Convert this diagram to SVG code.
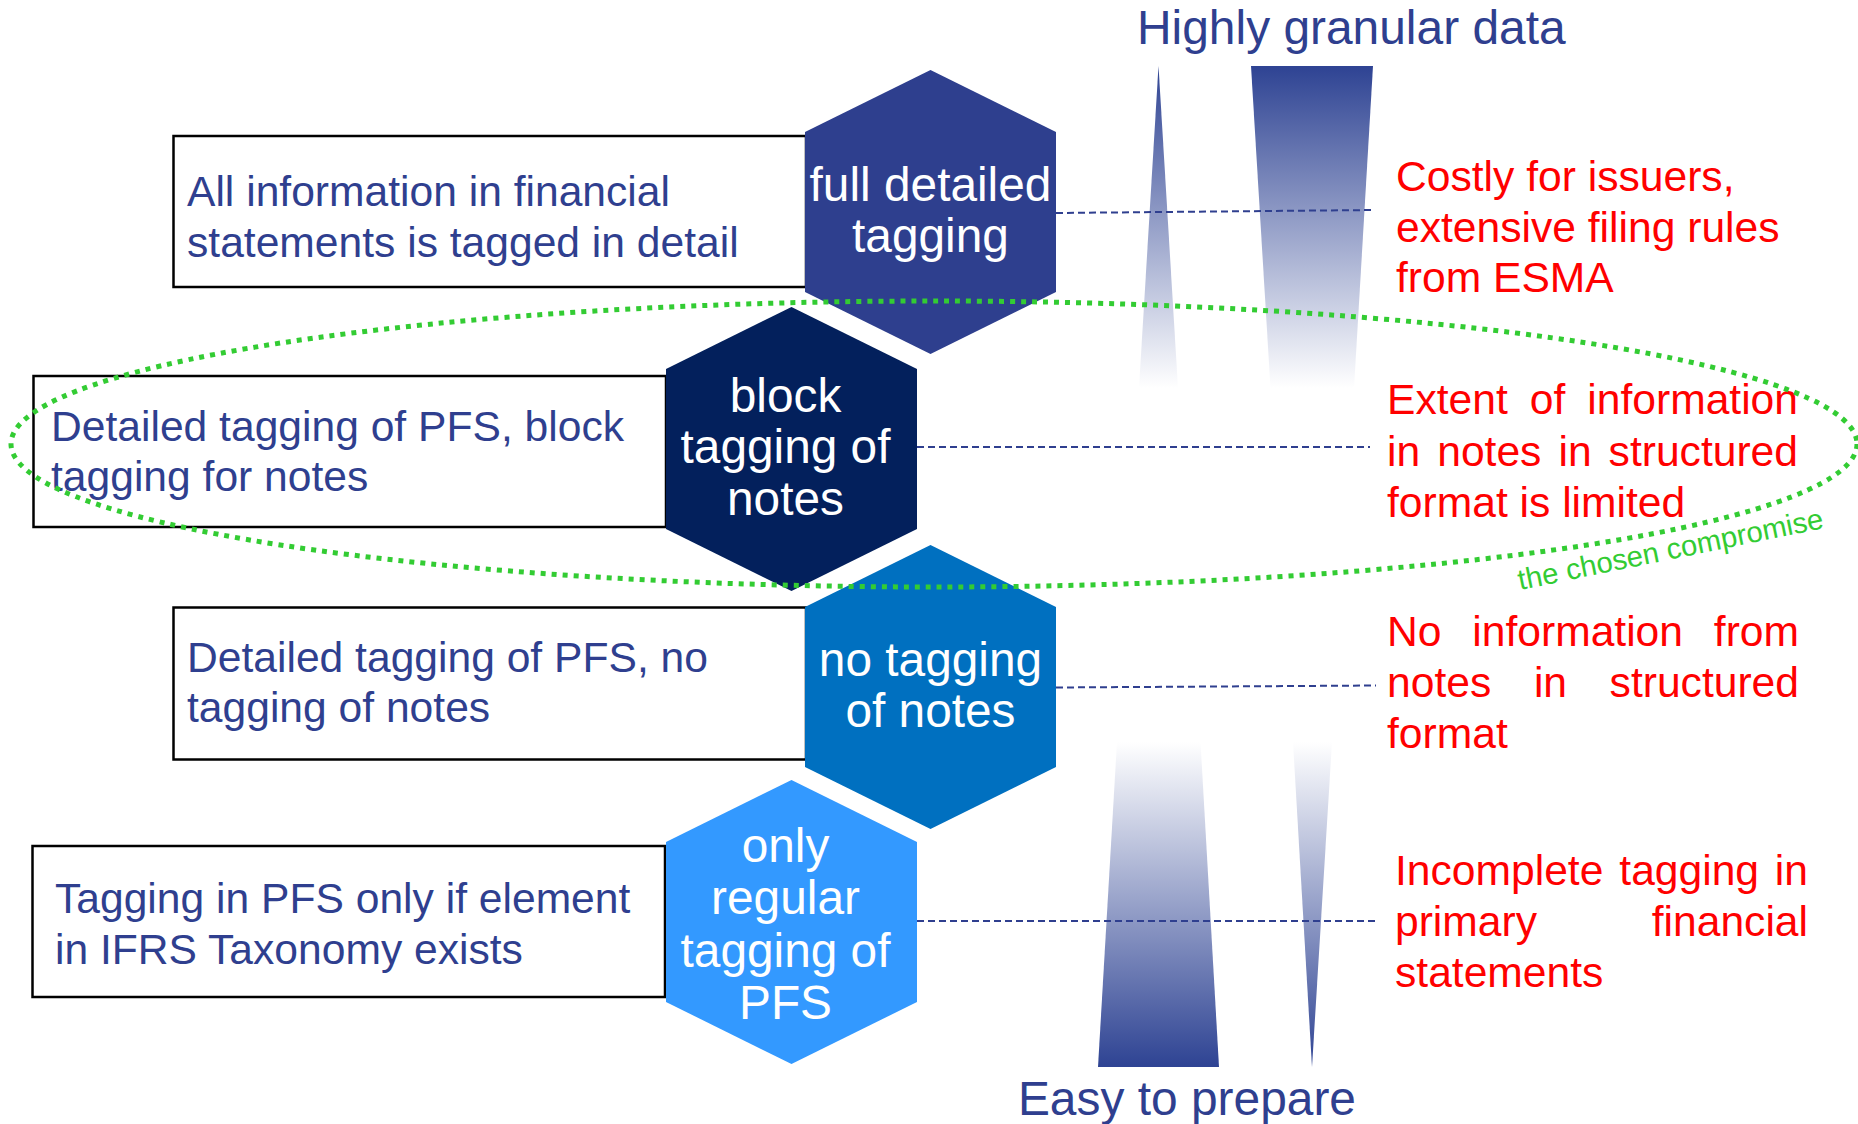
<svg xmlns="http://www.w3.org/2000/svg" width="1858" height="1124" viewBox="0 0 1858 1124">
<style>
.box{fill:#FFFFFF;stroke:#000000;stroke-width:2.5}
.btxt{font-family:"Liberation Sans",Arial,sans-serif;font-size:42.6px;fill:#2F3F8F}
.htxt{font-family:"Liberation Sans",Arial,sans-serif;font-size:47.8px;fill:#FFFFFF;text-anchor:middle}
.rtxt{font-family:"Liberation Sans",Arial,sans-serif;font-size:42.6px;fill:#FF0000}
.ttl{font-family:"Liberation Sans",Arial,sans-serif;font-size:47.9px;fill:#2F3F8F}
.dash{stroke:#2F3F8F;stroke-width:2;stroke-dasharray:7 4;fill:none}
.end{text-anchor:end}
</style>
<defs>
<linearGradient id="gDown" x1="0" y1="0" x2="0" y2="1">
<stop offset="0" stop-color="#2E4393"/>
<stop offset="1" stop-color="#FFFFFF"/>
</linearGradient>
<linearGradient id="gUp" x1="0" y1="0" x2="0" y2="1">
<stop offset="0" stop-color="#FFFFFF"/>
<stop offset="1" stop-color="#2E4393"/>
</linearGradient>
</defs>
<rect width="1858" height="1124" fill="#FFFFFF"/>

<g id="tapers">
<polygon points="1158.5,66 1178,388 1139,388" fill="url(#gDown)"/>
<polygon points="1251,66 1373,66 1354,388 1270.5,388" fill="url(#gDown)"/>
<polygon points="1117,742 1200.5,742 1219,1067 1098,1067" fill="url(#gUp)"/>
<polygon points="1293,742 1332,742 1312,1067" fill="url(#gUp)"/>
</g>

<g id="box1">
<rect class="box" x="173.5" y="136" width="632.5" height="151"/>
<text class="btxt" x="187" y="206">All information in financial</text>
<text class="btxt" x="187" y="257">statements is tagged in detail</text>
</g>
<g id="box2">
<rect class="box" x="33.5" y="376" width="632.5" height="151"/>
<text class="btxt" x="51" y="440.5">Detailed tagging of PFS, block</text>
<text class="btxt" x="51" y="491">tagging for notes</text>
</g>
<g id="box3">
<rect class="box" x="173.5" y="607.5" width="632.5" height="152"/>
<text class="btxt" x="187" y="672">Detailed tagging of PFS, no</text>
<text class="btxt" x="187" y="722">tagging of notes</text>
</g>
<g id="box4">
<rect class="box" x="32.5" y="846" width="632.5" height="151"/>
<text class="btxt" x="55" y="913">Tagging in PFS only if element</text>
<text class="btxt" x="55" y="964">in IFRS Taxonomy exists</text>
</g>

<g id="hex1">
<polygon points="930.5,70 1056,132 1056,292 930.5,354 805,292 805,132" fill="#2E3F8E"/>
<text class="htxt" x="930.5" y="200.7">full detailed</text>
<text class="htxt" x="930.5" y="251.7">tagging</text>
</g>
<g id="hex2">
<polygon points="791.5,307 917,369 917,529 791.5,591 666,529 666,369" fill="#03205C"/>
<text class="htxt" x="785.5" y="411.7">block</text>
<text class="htxt" x="785.5" y="463">tagging of</text>
<text class="htxt" x="785.5" y="515">notes</text>
</g>
<g id="hex3">
<polygon points="930.5,545 1056,607 1056,767 930.5,829 805,767 805,607" fill="#0070C0"/>
<text class="htxt" x="930.5" y="675.5">no tagging</text>
<text class="htxt" x="930.5" y="727">of notes</text>
</g>
<g id="hex4">
<polygon points="791.5,780 917,842 917,1002 791.5,1064 666,1002 666,842" fill="#3399FF"/>
<text class="htxt" x="785.5" y="861.7">only</text>
<text class="htxt" x="785.5" y="914">regular</text>
<text class="htxt" x="785.5" y="966.5">tagging of</text>
<text class="htxt" x="785.5" y="1018.5">PFS</text>
</g>

<g id="connectors">
<line class="dash" x1="1056" y1="213" x2="1374" y2="210"/>
<line class="dash" x1="917" y1="447" x2="1370" y2="447"/>
<line class="dash" x1="1056" y1="687.5" x2="1376" y2="685.5"/>
<line class="dash" x1="917" y1="921" x2="1376" y2="921"/>
</g>

<g id="titles">
<text class="ttl" x="1137" y="44">Highly granular data</text>
<text class="ttl" x="1356" y="1115" text-anchor="end">Easy to prepare</text>
</g>

<g id="note1">
<text class="rtxt" x="1396" y="191">Costly for issuers,</text>
<text class="rtxt" x="1396" y="241.5">extensive filing rules</text>
<text class="rtxt" x="1396" y="292">from ESMA</text>
</g>
<g id="note2">
<text class="rtxt" x="1387" y="414">Extent</text>
<text class="rtxt" x="1529.8" y="414">of</text>
<text class="rtxt end" x="1798" y="414">information</text>
<text class="rtxt" x="1387" y="465.5">in</text>
<text class="rtxt" x="1437.2" y="465.5">notes</text>
<text class="rtxt" x="1558.5" y="465.5">in</text>
<text class="rtxt end" x="1798" y="465.5">structured</text>
<text class="rtxt" x="1387" y="517">format is limited</text>
</g>
<g id="note3">
<text class="rtxt" x="1387" y="646">No</text>
<text class="rtxt" x="1472.3" y="646">information</text>
<text class="rtxt end" x="1799" y="646">from</text>
<text class="rtxt" x="1387" y="697">notes</text>
<text class="rtxt" x="1533.9" y="697">in</text>
<text class="rtxt end" x="1799" y="697">structured</text>
<text class="rtxt" x="1387" y="748">format</text>
</g>
<g id="note4">
<text class="rtxt" x="1395" y="885">Incomplete</text>
<text class="rtxt" x="1619.3" y="885">tagging</text>
<text class="rtxt end" x="1808" y="885">in</text>
<text class="rtxt" x="1395" y="936">primary</text>
<text class="rtxt end" x="1808" y="936">financial</text>
<text class="rtxt" x="1395" y="987">statements</text>
</g>

<g id="compromise">
<ellipse cx="934" cy="444" rx="923" ry="143" fill="none" stroke="#33CC33" stroke-width="5" stroke-dasharray="5 6"/>
<text x="1520" y="590" transform="rotate(-11.5 1520 590)" font-family="'Liberation Sans',Arial,sans-serif" font-size="29.3" fill="#33CC33">the chosen compromise</text>
</g>
</svg>
